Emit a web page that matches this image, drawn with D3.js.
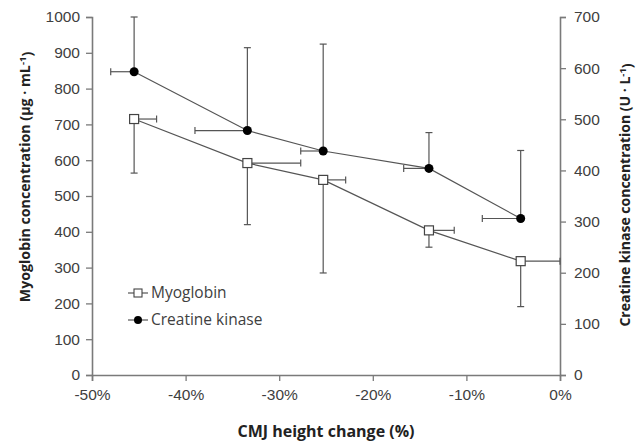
<!DOCTYPE html>
<html>
<head>
<meta charset="utf-8">
<script src="https://cdn.jsdelivr.net/npm/d3@7"></script>
<style>
  html, body { margin: 0; padding: 0; background: #fff; }
  svg { display: block; font-family: "Open Sans", "DejaVu Sans", sans-serif; }
</style>
</head>
<body>
<svg id="chart" width="640" height="444"></svg>
<script>
// ---- Data ----
const xChange = [-45.5, -33.4, -25.3, -14.0, -4.2];          // CMJ height change (%)
const myoglobin = [715, 592, 545, 404, 318];                   // µg·mL-1 (left axis)
const myoLowerErr = [151, 172, 260, 47, 127];                  // lower SD
const myoXErrRight = [2.4, 5.7, 2.4, 2.7, 4.2];                // x SD (shown to the right)
const creatineKinase = [593, 478, 438, 404, 306];              // U·L-1 (right axis)
const ckUpperErr = [107, 162, 209, 70, 133];                   // upper SD
const ckXErrLeft = [2.5, 5.6, 2.4, 2.7, 4.1];                  // x SD (shown to the left)
const xTicks = [-50, -40, -30, -20, -10, 0];
const leftTicks = [0, 100, 200, 300, 400, 500, 600, 700, 800, 900, 1000];
const rightTicks = [0, 100, 200, 300, 400, 500, 600, 700];
const seriesNames = ["Myoglobin", "Creatine kinase"];

// ---- Layout ----
const svg = d3.select("#chart");
const m = { left: 92, right: 80, top: 17, bottom: 69 };
const W = 640, H = 444;
const x = d3.scaleLinear().domain([-50, 0]).range([m.left, W - m.right]);
const yL = d3.scaleLinear().domain([0, 1000]).range([H - m.bottom, m.top]);
const yR = d3.scaleLinear().domain([0, 700]).range([H - m.bottom, m.top]);

const axisColor = "#7a7a7a";
const textColor = "#404040";
const lineColor = "#555";
const fontSize = "15.5px";

function styleAxis(g) {
  g.selectAll("path.domain").attr("stroke", axisColor).attr("stroke-width", 1.6);
  g.selectAll(".tick line").attr("stroke", axisColor).attr("stroke-width", 1.3);
  g.selectAll(".tick text").attr("fill", textColor).style("font-size", fontSize);
}

// X axis
const gx = svg.append("g").attr("transform", `translate(0,${H - m.bottom})`)
  .call(d3.axisBottom(x).tickValues(xTicks).tickSizeOuter(0).tickSize(6).tickPadding(8)
    .tickFormat(d => d + "%"));
styleAxis(gx);

// Left axis
const gl = svg.append("g").attr("transform", `translate(${m.left},0)`)
  .call(d3.axisLeft(yL).tickValues(leftTicks).tickSizeOuter(0).tickSize(6).tickPadding(6)
    .tickFormat(d3.format("d")));
styleAxis(gl);

// Right axis
const gr = svg.append("g").attr("transform", `translate(${W - m.right},0)`)
  .call(d3.axisRight(yR).tickValues(rightTicks).tickSizeOuter(0).tickSize(6).tickPadding(8)
    .tickFormat(d3.format("d")));
styleAxis(gr);

// ---- Error bars ----
const cap = 3.5;
const eb = svg.append("g").attr("stroke", lineColor).attr("stroke-width", 1.2).attr("fill", "none");

xChange.forEach((xv, i) => {
  // Myoglobin: lower y error, right x error
  const px = x(xv), py = yL(myoglobin[i]);
  const yLow = yL(myoglobin[i] - myoLowerErr[i]);
  eb.append("line").attr("x1", px).attr("x2", px).attr("y1", py).attr("y2", yLow);
  eb.append("line").attr("x1", px - cap).attr("x2", px + cap).attr("y1", yLow).attr("y2", yLow);
  const xR = x(xv + myoXErrRight[i]);
  eb.append("line").attr("x1", px).attr("x2", xR).attr("y1", py).attr("y2", py);
  eb.append("line").attr("x1", xR).attr("x2", xR).attr("y1", py - cap).attr("y2", py + cap);

  // Creatine kinase: upper y error, left x error
  const cy = yR(creatineKinase[i]);
  const yUp = yR(creatineKinase[i] + ckUpperErr[i]);
  eb.append("line").attr("x1", px).attr("x2", px).attr("y1", cy).attr("y2", yUp);
  eb.append("line").attr("x1", px - cap).attr("x2", px + cap).attr("y1", yUp).attr("y2", yUp);
  const xL = x(xv - ckXErrLeft[i]);
  eb.append("line").attr("x1", px).attr("x2", xL).attr("y1", cy).attr("y2", cy);
  eb.append("line").attr("x1", xL).attr("x2", xL).attr("y1", cy - cap).attr("y2", cy + cap);
});

// ---- Lines ----
const myoLine = d3.line().x((d, i) => x(xChange[i])).y(d => yL(d));
const ckLine = d3.line().x((d, i) => x(xChange[i])).y(d => yR(d));
svg.append("path").datum(myoglobin).attr("d", myoLine)
  .attr("fill", "none").attr("stroke", lineColor).attr("stroke-width", 1.2);
svg.append("path").datum(creatineKinase).attr("d", ckLine)
  .attr("fill", "none").attr("stroke", lineColor).attr("stroke-width", 1.2);

// ---- Markers ----
const sq = 9;
svg.append("g").selectAll("rect").data(myoglobin).join("rect")
  .attr("x", (d, i) => x(xChange[i]) - sq / 2).attr("y", d => yL(d) - sq / 2)
  .attr("width", sq).attr("height", sq)
  .attr("fill", "#fff").attr("stroke", "#444").attr("stroke-width", 1.2);
svg.append("g").selectAll("circle").data(creatineKinase).join("circle")
  .attr("cx", (d, i) => x(xChange[i])).attr("cy", d => yR(d)).attr("r", 4.5)
  .attr("fill", "#000");

// ---- Legend ----
const lg = svg.append("g");
const legY = [293, 320];
seriesNames.forEach((name, i) => {
  const yy = legY[i];
  lg.append("line").attr("x1", 128).attr("x2", 148).attr("y1", yy).attr("y2", yy)
    .attr("stroke", lineColor).attr("stroke-width", 1.2);
  if (i === 0) {
    lg.append("rect").attr("x", 138 - 4).attr("y", yy - 4).attr("width", 8).attr("height", 8)
      .attr("fill", "#fff").attr("stroke", "#444").attr("stroke-width", 1.1);
  } else {
    lg.append("circle").attr("cx", 138).attr("cy", yy).attr("r", 4).attr("fill", "#000");
  }
  lg.append("text").attr("x", 151).attr("y", yy).attr("dy", "0.35em")
    .attr("fill", textColor).style("font-size", fontSize).text(name);
});

// ---- Axis titles ----
svg.append("text").attr("x", 326).attr("y", 437).attr("text-anchor", "middle")
  .attr("fill", "#222").style("font-size", "16px").style("font-weight", "bold")
  .text("CMJ height change (%)");

const lt = svg.append("text").attr("transform", "translate(30,177) rotate(-90)")
  .attr("text-anchor", "middle").attr("fill", "#222")
  .style("font-size", "14.2px").style("font-weight", "bold");
lt.append("tspan").text("Myoglobin concentration (µg · mL");
lt.append("tspan").attr("dy", "-0.45em").style("font-size", "9.5px").text("-1");
lt.append("tspan").attr("dy", "0.45em").text(")");

const rt = svg.append("text").attr("transform", "translate(630,195) rotate(-90)")
  .attr("text-anchor", "middle").attr("fill", "#222")
  .style("font-size", "14px").style("font-weight", "bold");
rt.append("tspan").text("Creatine kinase concentration (U · L");
rt.append("tspan").attr("dy", "-0.45em").style("font-size", "9.5px").text("-1");
rt.append("tspan").attr("dy", "0.45em").text(")");
</script>
</body>
</html>
